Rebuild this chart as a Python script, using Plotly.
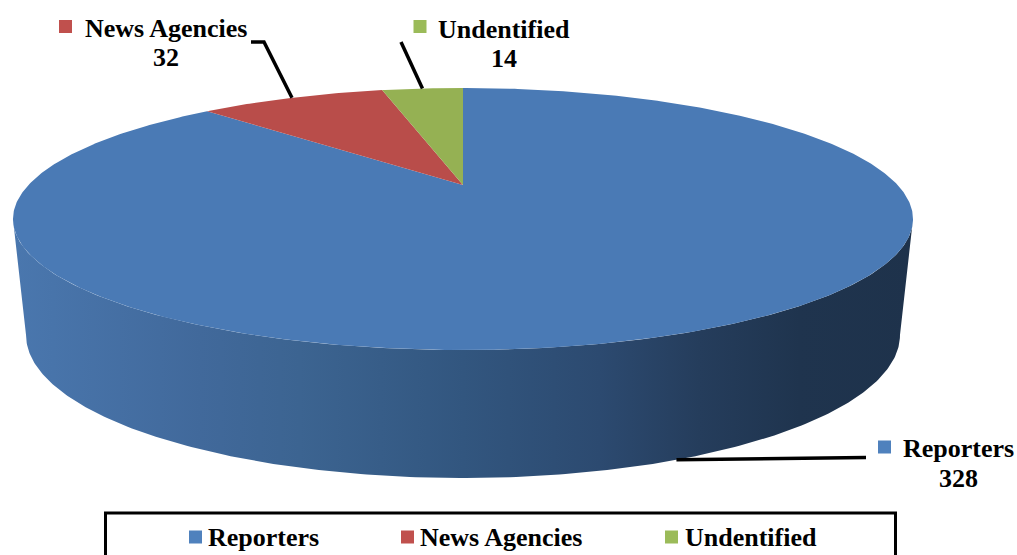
import numpy as np
import plotly.graph_objects as go

# Chart data
categories = ["Reporters", "News Agencies", "Undentified"]
counts = [328, 32, 14]

# Colours
top_colors = ["#4a7ab5", "#b94d4a", "#95b153"]
key_colors = ["#4f81bd", "#c0504d", "#9bbb59"]
wall_stops = [
    [0.0, "#4a77ae"], [0.208, "#41699b"], [0.319, "#3c6491"], [0.5, "#32567f"],
    [0.652, "#2c4a70"], [0.763, "#253d5c"], [0.874, "#1f344e"], [1.0, "#1e324b"],
]

SERIF = "Liberation Serif"
FONT_SIZE = 26
CX = 463.0
K_TOP = 0.2595
K_BASE = 0.28


def rim(theta, apex_y, half_w, k, depth):
    """Project a disc rim in perspective; theta runs clockwise from the back."""
    u, v = np.sin(theta), np.cos(theta)
    w = 1 + k * v
    return CX + half_w * u / w, apex_y - depth * v / w


def top_rim(theta):
    return rim(theta, 185.0, 434.6, K_TOP, 122.2)


def base_rim(theta):
    return rim(theta, 295.0, 419.5, K_BASE, 131.8)


shares = np.array(counts, dtype=float) / sum(counts)
# Slices run clockwise from twelve o'clock
ends = np.cumsum(shares) * 2 * np.pi
starts = ends - shares * 2 * np.pi
mids = (starts + ends) / 2

fig = go.Figure()

# Curved wall of the front half, between the widest points of each rim
top_turn = np.arccos(-K_TOP)
base_turn = np.arccos(-K_BASE)
front_top = np.linspace(top_turn, 2 * np.pi - top_turn, 240)
front_base = np.linspace(2 * np.pi - base_turn, base_turn, 240)
tx, ty = top_rim(front_top)
bx, by = base_rim(front_base)
fig.add_trace(go.Scatter(
    x=np.concatenate([tx, bx]), y=np.concatenate([ty, by]),
    mode="lines", line=dict(width=0), fill="toself",
    fillgradient=dict(type="horizontal", colorscale=wall_stops),
    hoverinfo="skip", showlegend=False,
))

# Top faces of the slices
for name, start, end, color in zip(categories, starts, ends, top_colors):
    t = np.linspace(start, end, max(8, int((end - start) * 120)))
    ax, ay = top_rim(t)
    fig.add_trace(go.Scatter(
        x=np.concatenate([[CX], ax, [CX]]), y=np.concatenate([[185.0], ay, [185.0]]),
        mode="lines", line=dict(width=0), fill="toself", fillcolor=color,
        name=name, showlegend=False,
    ))

# Leader lines from each slice's mid-angle out to its label
rx, ry = base_rim(mids[0])
nx, ny = top_rim(mids[1])
ux, uy = top_rim(mids[2])
leaders = [
    ([rx, 866], [ry, 457.5]),
    ([nx, 264, 251], [ny, 42, 42]),
    ([ux, 401], [uy, 42]),
]
for lx, ly in leaders:
    fig.add_trace(go.Scatter(x=lx, y=ly, mode="lines",
                             line=dict(color="black", width=3.5),
                             hoverinfo="skip", showlegend=False))

# Data labels: key square, category name, count underneath
label_key_x = [884.5, 65.5, 420]
label_key_y = [447, 26.5, 26.5]
label_text_x = [958.5, 165.5, 503.5]
label_name_y = [448, 28, 29]
label_value_y = [478, 57.5, 58]

# Legend strip entries along the bottom
legend_key_x = [195.5, 407.5, 671.5]
legend_text_x = [208, 420, 685]
legend_y = 537

fig.add_trace(go.Scatter(
    x=label_key_x + legend_key_x, y=label_key_y + [legend_y] * 3,
    mode="markers",
    marker=dict(symbol="square", size=13, color=key_colors * 2, line=dict(width=0)),
    hoverinfo="skip", showlegend=False,
))

annotations = []
font = dict(family=SERIF, size=FONT_SIZE, color="black")
for name, count, tx0, ny0, vy0 in zip(categories, counts, label_text_x, label_name_y, label_value_y):
    annotations.append(dict(x=tx0, y=ny0, text=f"<b>{name}</b>", xref="x", yref="y",
                            showarrow=False, xanchor="center", yanchor="middle", font=font))
    annotations.append(dict(x=tx0, y=vy0, text=f"<b>{count}</b>", xref="x", yref="y",
                            showarrow=False, xanchor="center", yanchor="middle", font=font))
for name, lx0 in zip(categories, legend_text_x):
    annotations.append(dict(x=lx0, y=legend_y, text=f"<b>{name}</b>", xref="x", yref="y",
                            showarrow=False, xanchor="left", yanchor="middle", font=font,
                            xshift=-2))

fig.update_layout(
    width=1017, height=555, autosize=False,
    margin=dict(l=0, r=0, t=0, b=0),
    paper_bgcolor="white", plot_bgcolor="white",
    showlegend=False,
    xaxis=dict(range=[0, 1017], visible=False, fixedrange=True),
    yaxis=dict(range=[555, 0], visible=False, fixedrange=True),
    annotations=annotations,
    # Legend frame runs off the bottom edge of the page
    shapes=[dict(type="rect", xref="x", yref="y", x0=105.5, x1=895.5, y0=513, y1=580,
                 line=dict(color="black", width=3), fillcolor="rgba(0,0,0,0)")],
)

fig.write_html("out.html")
